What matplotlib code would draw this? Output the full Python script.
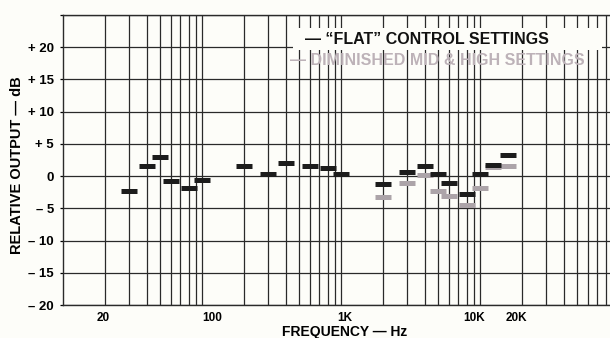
import numpy as np
import matplotlib.pyplot as plt
from matplotlib.ticker import LogLocator, NullFormatter
from matplotlib.transforms import ScaledTranslation
from matplotlib.patches import Rectangle

plt.rcParams['font.family'] = ['Liberation Sans', 'DejaVu Sans']
plt.rcParams['font.weight'] = 'bold'

# "flat" control settings
freq_flat = [30, 40, 50, 60, 80, 100, 200, 300, 400, 600, 800, 1000,
             2000, 3000, 4000, 5000, 6000, 8000, 10000, 12500, 16000]
db_flat = [-2.3, 1.5, 2.9, -0.8, -1.8, -0.6, 1.5, 0.4, 2.1, 1.6, 1.2, 0.3,
           -1.3, 0.6, 1.6, 0.3, -1.0, -2.7, 0.3, 1.8, 3.2]

# diminished mid & high settings
freq_dim = [2000, 3000, 4000, 5000, 6000, 8000, 10000, 12500, 16000]
db_dim = [-3.3, -1.1, 0.1, -2.3, -3.1, -4.5, -1.9, 1.4, 1.6]

xtick_vals = [20, 100, 1000, 10000, 20000]
xtick_labels = ["20", "100", "1K", "10K", "20K"]
xtick_shift = [-2, 10, 4, -6, -5]  # px, labels sit a bit off the lines in the original

ytick_vals = [-20, -15, -10, -5, 0, 5, 10, 15, 20]
ytick_labels = ["\u2013 20", "\u2013 15", "\u2013 10", "\u2013 5", "0",
                "+ 5", "+ 10", "+ 15", "+ 20"]

W, H = 610, 338
fig = plt.figure(figsize=(W/100, H/100), dpi=100)
fig.patch.set_facecolor("#fdfdf9")

# axes: 10 Hz at x=63px, 100 kHz at x=619px (cut off by the image edge)
ax = fig.add_axes([63/W, 1-305/H, (619-63)/W, (305-15)/H])
ax.set_facecolor("#fdfdf9")
ax.set_xscale("log")
ax.set_xlim(10, 1e5)
ax.set_ylim(-20, 25)

ax.xaxis.set_major_locator(LogLocator(base=10, numticks=10))
ax.xaxis.set_minor_locator(LogLocator(base=10, subs=np.arange(2, 10), numticks=20))
ax.grid(True, which="both", axis="x", color="#2a2a2a", lw=0.9)
ax.set_yticks(ytick_vals + [25], ytick_labels + [""])
ax.grid(True, which="major", axis="y", color="#2a2a2a", lw=0.9)
ax.set_axisbelow(True)

ax.set_xticks(xtick_vals, xtick_labels)
ax.xaxis.set_minor_formatter(NullFormatter())
ax.tick_params(axis="x", which="both", length=0, pad=5, labelsize=8.5)
ax.tick_params(axis="y", length=2.5, width=0.9, pad=4, labelsize=9.5)
for lab, dx in zip(ax.get_xticklabels(), xtick_shift):
    lab.set_transform(lab.get_transform() + ScaledTranslation(dx/100, 0, fig.dpi_scale_trans))

for s in ["left", "bottom", "top"]:
    ax.spines[s].set_color("#2a2a2a")
    ax.spines[s].set_linewidth(1.0)
ax.spines["right"].set_visible(False)

# measurement marks
ax.plot(freq_dim, db_dim, ls="none", marker="_", ms=11.5, mew=3.6,
        color="#aca4a9", zorder=3)
ax.plot(freq_flat, db_flat, ls="none", marker="_", ms=11.5, mew=3.6,
        color="#1c1c1c", zorder=4)

# legend, drawn like the original
ax.add_patch(Rectangle(((293-63)/556, (305-50)/290), (602-293)/556, 22/290,
                       transform=ax.transAxes, facecolor="#fdfdf9",
                       edgecolor="none", zorder=5))
ax.text((305-63)/556, (305-40)/290, "\u2014 \u201cFLAT\u201d CONTROL SETTINGS",
        transform=ax.transAxes, ha="left", va="center", fontsize=11.5,
        color="#111111", zorder=6)
ax.text((290-63)/556, (305-61)/290, "\u2014 DIMINISHED MID & HIGH SETTINGS",
        transform=ax.transAxes, ha="left", va="center", fontsize=11.5,
        color="#bdb2b8", zorder=6)

ax.text((345-63)/556, -(332-305)/290, "FREQUENCY \u2014 Hz",
        transform=ax.transAxes, ha="center", va="center", fontsize=10)
ax.text((17-63)/556, (305-165)/290, "RELATIVE OUTPUT \u2014 dB",
        transform=ax.transAxes, ha="center", va="center", rotation=90,
        fontsize=10.5)

fig.savefig("out.png", dpi=100, facecolor=fig.get_facecolor())
